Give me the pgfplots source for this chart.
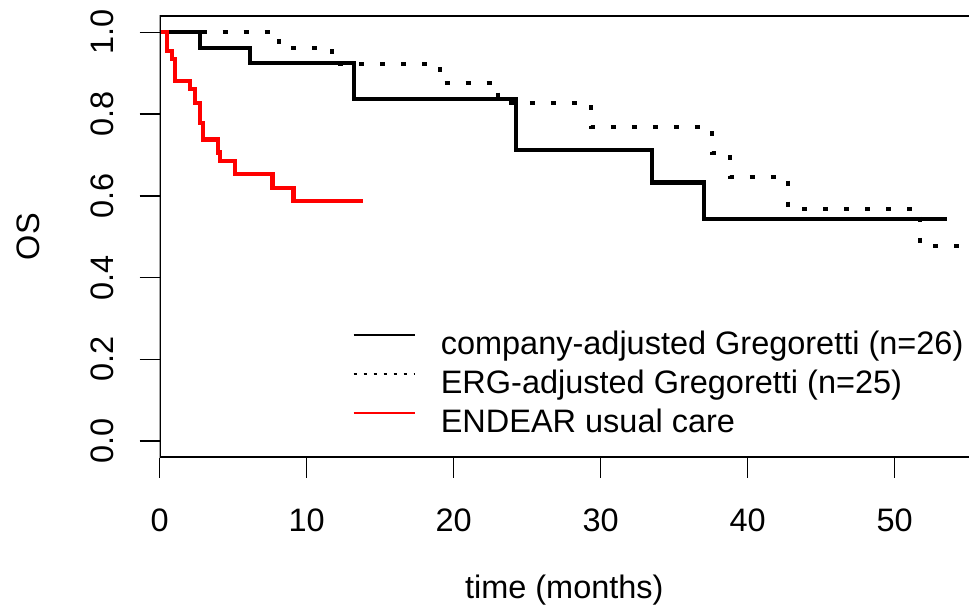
\documentclass[border=0pt]{standalone}
\usepackage{fontspec}
\setmainfont{Liberation Sans}
\usepackage{pgfplots}
\pgfplotsset{compat=1.18}

\newcommand{\plotfont}{\fontsize{32.6}{39}\selectfont}

% Kaplan-Meier step curves: time (months), survival
\pgfplotstableread{
t s
0     1.000
2.75  0.962
6.15  0.925
13.22 0.837
24.25 0.713
33.48 0.633
37.03 0.544
53.54 0.544
}\companyadj

\pgfplotstableread{
t s
0     1.000
8.12  0.962
11.71 0.923
19.07 0.875
23.04 0.827
29.33 0.768
37.56 0.705
38.80 0.646
42.77 0.568
51.73 0.478
56.00 0.478
}\ergadj

\pgfplotstableread{
t s
0     1.000
0.48  0.955
0.82  0.934
1.05  0.881
2.05  0.861
2.41  0.828
2.75  0.779
2.97  0.738
3.99  0.706
4.11  0.685
5.13  0.653
7.68  0.620
9.10  0.588
13.86 0.588
}\endear

\begin{document}
\begin{tikzpicture}
\useasboundingbox (-159.6bp,-151.5bp) rectangle (809.4bp,457.5bp);
\begin{axis}[
  scale only axis,
  width=809.4bp, height=441.5bp,
  xmin=0, xmax=55.06, ymin=-0.04, ymax=1.04,
  axis line style={draw=none},
  xtick={0,10,20,30,40,50},
  xticklabels={0,10,20,30,40,50},
  ytick={0,0.2,0.4,0.6,0.8,1},
  yticklabels={0.0,0.2,0.4,0.6,0.8,1.0},
  tick pos=left,
  tick align=outside,
  major tick length=20bp,
  every tick/.style={black, line width=1.6bp},
  tick label style={font=\plotfont, inner sep=0pt},
  xticklabel style={anchor=north},
  yticklabel style={rotate=90, anchor=south},
  xticklabel shift=31bp,
  yticklabel shift=26bp,
  every axis x label/.style={at={(rel axis cs:0.5,0)}, anchor=base, yshift=-141bp, font=\plotfont},
  every axis y label/.style={at={(rel axis cs:0,0.5)}, xshift=-119.6bp, rotate=90, anchor=base, font=\plotfont},
  xlabel={time (months)},
  ylabel={OS},
  legend cell align=left,
  legend image code/.code={\draw[#1] (0bp,11.6bp) -- (61bp,11.6bp);},
  legend style={draw=none, fill=none, inner sep=0pt,
    at={(axis cs:13.09,0.270)}, anchor=north west,
    row sep=8bp, column sep=25bp,
    nodes={inner sep=0pt, text height=24bp, text depth=7bp, font=\plotfont}},
]
\addplot[const plot, black, line width=4.3bp, forget plot] table[x=t, y=s] {\companyadj};
\addplot[const plot, black, line width=4bp, dash pattern=on 5bp off 16bp, forget plot] table[x=t, y=s] {\ergadj};
\addplot[const plot, red, line width=4.3bp, forget plot] table[x=t, y=s] {\endear};

\addlegendimage{black, line width=2.6bp}
\addlegendentry{company-adjusted Gregoretti (n=26)}
\addlegendimage{black, line width=2.6bp, dash pattern=on 3.5bp off 6.5bp}
\addlegendentry{ERG-adjusted Gregoretti (n=25)}
\addlegendimage{red, line width=2.6bp}
\addlegendentry{ENDEAR usual care}

\draw[black, line width=2.2bp] (rel axis cs:1,1) -- (rel axis cs:0,1) -- (rel axis cs:0,0) -- (rel axis cs:1,0);
\end{axis}
\end{tikzpicture}
\end{document}
